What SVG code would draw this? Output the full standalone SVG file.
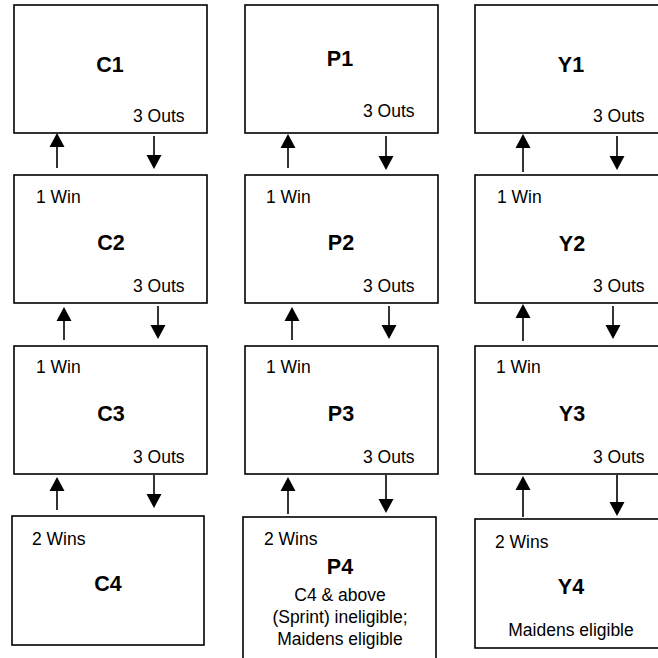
<svg xmlns="http://www.w3.org/2000/svg" width="658" height="658" viewBox="0 0 658 658">
<style>
.box{fill:#fff;stroke:#000;stroke-width:1.6}
text{font-family:"Liberation Sans",Arial,sans-serif;fill:#000}
.t{font-size:21.5px;font-weight:bold;text-anchor:middle}
.s{font-size:17.5px}
.m{font-size:17.5px;text-anchor:middle}
.c{stroke:#000;stroke-width:1.6;fill:none;marker-end:url(#ah)}
</style>
<defs>
<marker id="ah" markerUnits="userSpaceOnUse" markerWidth="16" markerHeight="16" viewBox="0 -8 15 16" refX="0" refY="0" orient="auto">
<path d="M0,-7.5 L14,0 L0,7.5 z" fill="#000"/>
</marker>
</defs>
<rect width="658" height="658" fill="#fff"/>
<g id="C1"><rect class="box" x="14" y="5" width="193" height="128"/><text class="t" x="110" y="72">C1</text><text class="s" x="133" y="122">3 Outs</text></g>
<g id="C2"><rect class="box" x="14" y="175" width="193" height="128"/><text class="s" x="36" y="203">1 Win</text><text class="t" x="111" y="250">C2</text><text class="s" x="133" y="292">3 Outs</text></g>
<g id="C3"><rect class="box" x="14" y="346" width="193" height="128"/><text class="s" x="36" y="373">1 Win</text><text class="t" x="111" y="421">C3</text><text class="s" x="133" y="463">3 Outs</text></g>
<g id="C4"><rect class="box" x="12" y="516" width="192" height="129"/><text class="s" x="32" y="545">2 Wins</text><text class="t" x="108" y="591">C4</text></g>
<g id="P1"><rect class="box" x="245" y="5" width="193" height="128"/><text class="t" x="340" y="66">P1</text><text class="s" x="363" y="117">3 Outs</text></g>
<g id="P2"><rect class="box" x="245" y="175" width="193" height="128"/><text class="s" x="266" y="203">1 Win</text><text class="t" x="341" y="250">P2</text><text class="s" x="363" y="292">3 Outs</text></g>
<g id="P3"><rect class="box" x="245" y="346" width="193" height="128"/><text class="s" x="266" y="373">1 Win</text><text class="t" x="341" y="421">P3</text><text class="s" x="363" y="463">3 Outs</text></g>
<g id="P4"><rect class="box" x="243" y="517" width="193" height="145"/><text class="s" x="264" y="545">2 Wins</text><text class="t" x="340" y="574">P4</text><text class="m" x="340" y="601">C4 &amp; above</text><text class="m" x="340" y="623">(Sprint) ineligible;</text><text class="m" x="340" y="645">Maidens eligible</text></g>
<g id="Y1"><rect class="box" x="475" y="5" width="193" height="128"/><text class="t" x="571" y="72">Y1</text><text class="s" x="593" y="122">3 Outs</text></g>
<g id="Y2"><rect class="box" x="475" y="175" width="193" height="128"/><text class="s" x="497" y="203">1 Win</text><text class="t" x="572" y="251">Y2</text><text class="s" x="593" y="292">3 Outs</text></g>
<g id="Y3"><rect class="box" x="475" y="346" width="193" height="128"/><text class="s" x="496" y="373">1 Win</text><text class="t" x="572" y="421">Y3</text><text class="s" x="593" y="463">3 Outs</text></g>
<g id="Y4"><rect class="box" x="475" y="519" width="193" height="129"/><text class="s" x="495" y="548">2 Wins</text><text class="t" x="571" y="594">Y4</text><text class="m" x="571" y="636">Maidens eligible</text></g>
<g id="connectors">
<line class="c" x1="57" y1="168" x2="57" y2="147"/>
<line class="c" x1="154" y1="136" x2="154" y2="155"/>
<line class="c" x1="64" y1="340" x2="64" y2="321"/>
<line class="c" x1="158" y1="306" x2="158" y2="325"/>
<line class="c" x1="57" y1="510" x2="57" y2="491"/>
<line class="c" x1="154" y1="475" x2="154" y2="494"/>
<line class="c" x1="288" y1="168" x2="288" y2="148"/>
<line class="c" x1="386" y1="136" x2="386" y2="156"/>
<line class="c" x1="292" y1="340" x2="292" y2="321"/>
<line class="c" x1="389" y1="306" x2="389" y2="325"/>
<line class="c" x1="288" y1="514" x2="288" y2="491"/>
<line class="c" x1="386" y1="475" x2="386" y2="499"/>
<line class="c" x1="523" y1="172" x2="523" y2="148"/>
<line class="c" x1="617" y1="136" x2="617" y2="156"/>
<line class="c" x1="523" y1="341" x2="523" y2="318"/>
<line class="c" x1="613" y1="306" x2="613" y2="325"/>
<line class="c" x1="523" y1="517" x2="523" y2="490"/>
<line class="c" x1="617" y1="475" x2="617" y2="502"/>
</g>
</svg>
